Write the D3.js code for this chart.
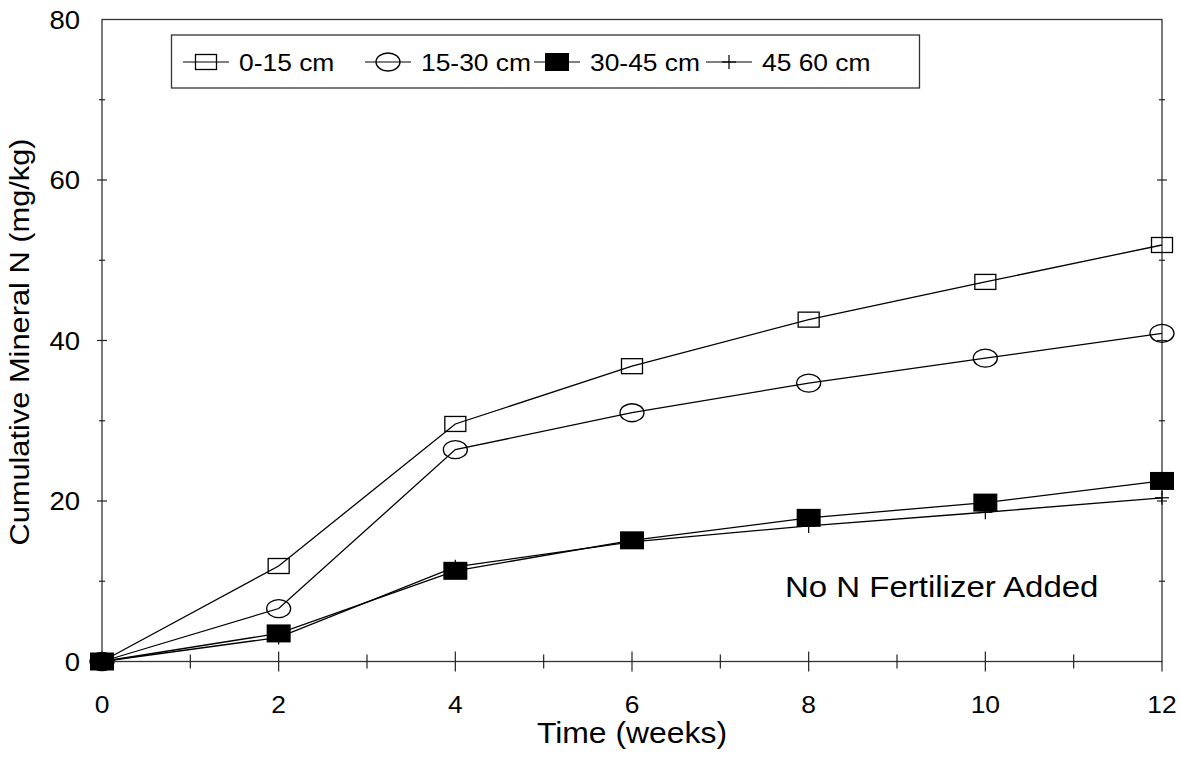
<!DOCTYPE html>
<html><head><meta charset="utf-8">
<script src="https://cdn.jsdelivr.net/npm/d3@7"></script>
<style>body{margin:0;background:#fff}svg{display:block;font-family:Arial,"Liberation Sans",sans-serif}</style>
</head><body>
<svg id="c" width="1180" height="758"></svg>
<script>
const weeks = [0, 2, 4, 6, 8, 10, 12];
const d0_15 = [0, 11.9, 29.6, 36.8, 42.6, 47.3, 51.9];
const d15_30 = [0, 6.6, 26.4, 31.0, 34.7, 37.8, 40.9];
const d30_45 = [0, 3.5, 11.3, 15.1, 17.9, 19.8, 22.5];
const d45_60 = [0, 3.0, 11.8, 14.9, 16.9, 18.6, 20.4];
const seriesNames = ["0-15 cm", "15-30 cm", "30-45 cm", "45 60 cm"];
const xTicks = [0, 2, 4, 6, 8, 10, 12];
const yTicks = [0, 20, 40, 60, 80];

const svg = d3.select("#c");
const L = 102, R = 1162, T = 19.5, B = 661.5;
const x = d3.scaleLinear().domain([0, 12]).range([L, R]);
const y = d3.scaleLinear().domain([0, 80]).range([B, T]);
const SX = 1.1;

function txt(g, str, tx, ty, size, anchor, rot) {
  return g.append("text")
    .attr("transform", `translate(${tx},${ty})` + (rot ? ` rotate(${rot})` : "") + ` scale(${SX},1)`)
    .attr("text-anchor", anchor || "start").attr("font-size", size).attr("fill", "#000").text(str);
}

// frame
svg.append("rect").attr("x", L).attr("y", T).attr("width", R - L).attr("height", B - T)
  .attr("fill", "none").attr("stroke", "#333").attr("stroke-width", 1.3);

// ticks
const tk = svg.append("g").attr("stroke", "#222").attr("stroke-width", 1.2);
d3.range(0, 13, 1).forEach(v => {
  const len = v % 2 === 0 ? 10 : 7;
  if (v > 0 && v < 12) {
    tk.append("line").attr("x1", x(v)).attr("x2", x(v)).attr("y1", B - len).attr("y2", B + len);
  }
});
d3.range(0, 81, 10).forEach(v => {
  if (v > 0 && v < 80) {
    const len = v % 20 === 0 ? 5 : 3;
    tk.append("line").attr("x1", L - len).attr("x2", L + len).attr("y1", y(v)).attr("y2", y(v));
    tk.append("line").attr("x1", R - len).attr("x2", R + len).attr("y1", y(v)).attr("y2", y(v));
  }
});
tk.append("line").attr("x1", R).attr("x2", R).attr("y1", B).attr("y2", B + 10);

// tick labels
const tl = svg.append("g");
xTicks.forEach(d => txt(tl, d, x(d), 713, 24, "middle"));
yTicks.forEach(d => txt(tl, d, 80, y(d) + 9, 25, "end"));

// axis titles
txt(svg, "Time (weeks)", 632, 743, 29, "middle");
txt(svg, "Cumulative Mineral N (mg/kg)", 29, 342, 28, "middle", -90);

// lines
const line = d3.line().x((d, i) => x(weeks[i])).y(d => y(d));
[d45_60, d30_45, d15_30, d0_15].forEach(s => svg.append("path").attr("d", line(s)).attr("fill", "none")
  .attr("stroke", "#000").attr("stroke-width", 1.3));

// markers
function marker(g, type, cx, cy) {
  if (type === 0) g.append("rect").attr("x", cx - 10.5).attr("y", cy - 7.5).attr("width", 21).attr("height", 15)
    .attr("fill", "none").attr("stroke", "#000").attr("stroke-width", 1.3);
  else if (type === 1) g.append("ellipse").attr("cx", cx).attr("cy", cy).attr("rx", 12).attr("ry", 9)
    .attr("fill", "none").attr("stroke", "#000").attr("stroke-width", 1.3);
  else if (type === 2) g.append("rect").attr("x", cx - 12).attr("y", cy - 9).attr("width", 24).attr("height", 18)
    .attr("fill", "#000");
  else {
    g.append("line").attr("x1", cx).attr("x2", cx).attr("y1", cy - 7).attr("y2", cy + 7).attr("stroke", "#000").attr("stroke-width", 1.2);
    g.append("line").attr("x1", cx - 7).attr("x2", cx + 7).attr("y1", cy).attr("y2", cy).attr("stroke", "#000").attr("stroke-width", 1.2);
  }
}
const mg = svg.append("g");
[d45_60, d15_30, d0_15, d30_45].forEach(s => {
  const type = s === d0_15 ? 0 : s === d15_30 ? 1 : s === d30_45 ? 2 : 3;
  s.forEach((v, i) => marker(mg, type, x(weeks[i]), y(v)));
});

// legend
const lg = svg.append("g");
lg.append("rect").attr("x", 171.5).attr("y", 35).attr("width", 748).attr("height", 53)
  .attr("fill", "#fff").attr("stroke", "#333").attr("stroke-width", 1.3);
const legX = [183, 365, 534, 706];
seriesNames.forEach((n, i) => {
  const x0 = legX[i], cy = 62;
  lg.append("line").attr("x1", x0).attr("x2", x0 + 46).attr("y1", cy).attr("y2", cy)
    .attr("stroke", "#000").attr("stroke-width", 1.2);
  marker(lg, i, x0 + 23, cy);
  txt(lg, n, x0 + 56, cy + 9, 24, "start");
});

// annotation
txt(svg, "No N Fertilizer Added", 785, 597, 30, "start");
</script>
</body></html>
